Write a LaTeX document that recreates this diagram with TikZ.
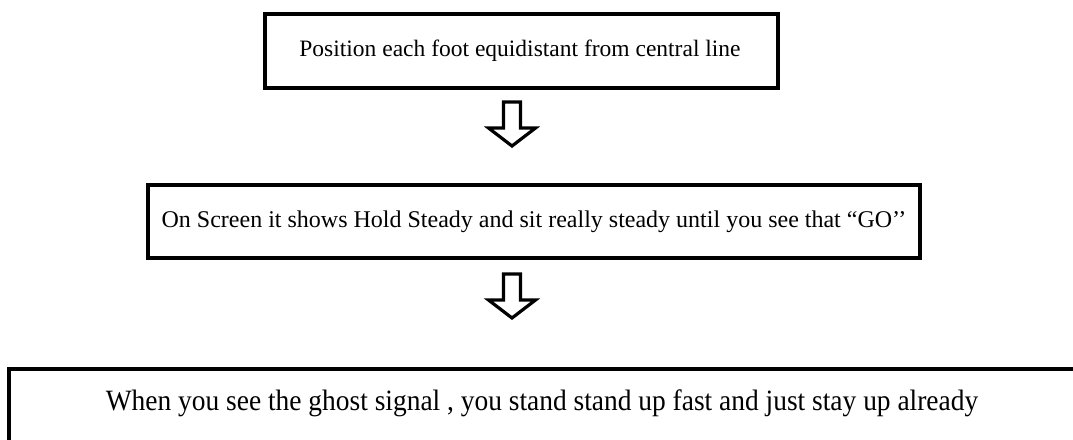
\documentclass[tikz,border=0pt]{standalone}
\usepackage{fontspec}
\setmainfont{Liberation Serif}
\begin{document}
\begin{tikzpicture}[x=1pt,y=-1pt,
  stepbox/.style={draw=black, line width=4pt, inner sep=0pt, fill=white},
  steptext/.style={font=\fontsize{23.5}{28}\selectfont, anchor=center},
  blockarrow/.style={draw=black, line width=3.2pt, fill=white, line join=miter}]
\useasboundingbox (0,0) rectangle (1073,439);
\clip (0,0) rectangle (1073,439);

% process boxes
\draw[stepbox] (265,14) rectangle (778,88);
\node[steptext] (t1) at (520,51) {Position each foot equidistant from central line};

\draw[stepbox] (148,185) rectangle (920,258);
\node[steptext, font=\fontsize{24}{28}\selectfont] (t2) at (534,222) {On Screen it shows Hold Steady and sit really steady until you see that “GO’’};

\draw[stepbox] (9,369) rectangle (1090,470);
\node[steptext, font=\fontsize{29.5}{34}\selectfont, xscale=0.93] (t3) at (542,403) {When you see the ghost signal , you stand stand up fast and just stay up already};

% hollow block arrows between the steps
\coordinate (a1) at (512,102);
\draw[blockarrow] (a1) ++(-8.5,0) -- ++(17,0) -- ++(0,26) -- ++(15,0)
  -- ++(-23.5,18) -- ++(-23.5,-18) -- ++(15,0) -- cycle;
\coordinate (a2) at (512,274);
\draw[blockarrow] (a2) ++(-8.5,0) -- ++(17,0) -- ++(0,26) -- ++(15,0)
  -- ++(-23.5,18) -- ++(-23.5,-18) -- ++(15,0) -- cycle;
\end{tikzpicture}
\end{document}
